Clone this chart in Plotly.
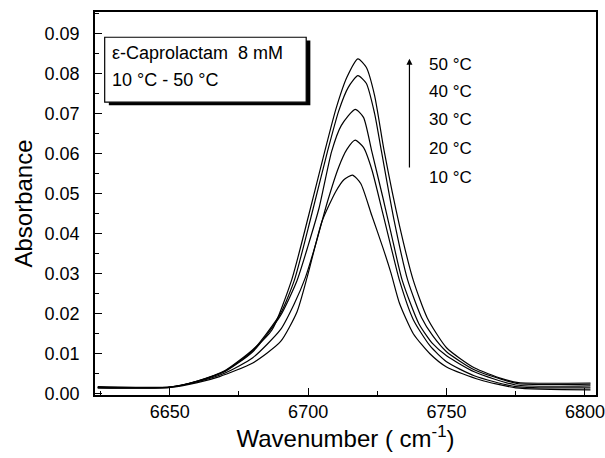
import plotly.graph_objects as go

# ---------------- data ----------------
temps = ["10 °C", "20 °C", "30 °C", "40 °C", "50 °C"]

wn_10 = [6624, 6650, 6660, 6668, 6680, 6690, 6696, 6700, 6705, 6710, 6713, 6716, 6719, 6723, 6727, 6730, 6733, 6738, 6744, 6750, 6762, 6775, 6802]
ab_10 = [0.0015, 0.0016, 0.0028, 0.0043, 0.0077, 0.0130, 0.0205, 0.0300, 0.0430, 0.0505, 0.0535, 0.0546, 0.0525, 0.0445, 0.0365, 0.0300, 0.0226, 0.0150, 0.0100, 0.0067, 0.0035, 0.0015, 0.0010]

wn_20 = [6624, 6650, 6660, 6670, 6680, 6690, 6695, 6699, 6703, 6707, 6711, 6714, 6717, 6720, 6723, 6727, 6730, 6733, 6738, 6744, 6750, 6760, 6775, 6802]
ab_20 = [0.0018, 0.0017, 0.0030, 0.0052, 0.0090, 0.0160, 0.0225, 0.0290, 0.0380, 0.0480, 0.0565, 0.0610, 0.0633, 0.0615, 0.0560, 0.0450, 0.0365, 0.0283, 0.0185, 0.0120, 0.0080, 0.0045, 0.0018, 0.0015]

wn_30 = [6624, 6650, 6660, 6670, 6680, 6690, 6696, 6700, 6704, 6708.5, 6712, 6717, 6720, 6723, 6727, 6730, 6734, 6740, 6745, 6750, 6760, 6775, 6802]
ab_30 = [0.0016, 0.0017, 0.0031, 0.0056, 0.0105, 0.0195, 0.0283, 0.0370, 0.0465, 0.0605, 0.0670, 0.0710, 0.0690, 0.0605, 0.0490, 0.0400, 0.0283, 0.0175, 0.0125, 0.0095, 0.0055, 0.0022, 0.0020]

wn_40 = [6624, 6650, 6660, 6670, 6680, 6690, 6695, 6701, 6707, 6711, 6714.5, 6718, 6721, 6724, 6726.5, 6731, 6736, 6741, 6745, 6750, 6760, 6770, 6776, 6802]
ab_40 = [0.0016, 0.0017, 0.0032, 0.0057, 0.0108, 0.0200, 0.0283, 0.0440, 0.0605, 0.0705, 0.0765, 0.0794, 0.0775, 0.0700, 0.0605, 0.0435, 0.0283, 0.0190, 0.0145, 0.0105, 0.0060, 0.0036, 0.0025, 0.0024]

wn_50 = [6624, 6650, 6660, 6670, 6680, 6687, 6694, 6700, 6706, 6710, 6714, 6718, 6721, 6724, 6727.5, 6733, 6738, 6743, 6750, 6760, 6770, 6776, 6802]
ab_50 = [0.0015, 0.0016, 0.0032, 0.0058, 0.0110, 0.0160, 0.0283, 0.0440, 0.0605, 0.0710, 0.0790, 0.0836, 0.0815, 0.0745, 0.0605, 0.0420, 0.0283, 0.0190, 0.0115, 0.0065, 0.0038, 0.0028, 0.0027]

series = [(wn_10, ab_10), (wn_20, ab_20), (wn_30, ab_30), (wn_40, ab_40), (wn_50, ab_50)]

x_ticks = [6650, 6700, 6750, 6800]
y_ticks = [0.00, 0.01, 0.02, 0.03, 0.04, 0.05, 0.06, 0.07, 0.08, 0.09]

# ---------------- figure ----------------
FONT = "Liberation Sans, Arial, sans-serif"
fig = go.Figure()
for (wx, wy), name in zip(series, temps):
    fig.add_trace(go.Scatter(x=wx, y=wy, mode="lines", name=name,
                             line=dict(color="black", width=1.2, shape="spline", smoothing=0.6),
                             showlegend=False, hoverinfo="skip"))

# legend box with shadow
fig.add_shape(type="rect", xref="x", yref="y", x0=6628.0, x1=6700.8, y0=0.0720, y1=0.0882,
              fillcolor="black", line=dict(width=0), layer="above")
fig.add_shape(type="rect", xref="x", yref="y", x0=6626.5, x1=6699.3, y0=0.0728, y1=0.0890,
              fillcolor="white", line=dict(color="black", width=1.2), layer="above")
fig.add_annotation(x=6628.5, y=0.0851, xref="x", yref="y", xanchor="left", yanchor="middle",
                   text="ε-Caprolactam  8 mM", showarrow=False,
                   font=dict(family=FONT, size=18, color="black"))
fig.add_annotation(x=6628.5, y=0.0783, xref="x", yref="y", xanchor="left", yanchor="middle",
                   text="10 °C - 50 °C", showarrow=False,
                   font=dict(family=FONT, size=18, color="black"))

# temperature arrow and labels
fig.add_annotation(x=6736.6, y=0.0836, ax=6736.6, ay=0.0561, xref="x", yref="y",
                   axref="x", ayref="y", showarrow=True, arrowhead=2, arrowsize=1,
                   arrowwidth=1.2, arrowcolor="black", text="")
label_y = [0.0541, 0.0613, 0.0685, 0.0754, 0.0821]
for t, ly in zip(temps, label_y):
    fig.add_annotation(x=6743.0, y=ly, xref="x", yref="y", xanchor="left", yanchor="middle",
                       text=t, showarrow=False, font=dict(family=FONT, size=17, color="black"))

fig.update_layout(
    width=605, height=458,
    margin=dict(l=95, r=9, t=12, b=63),
    paper_bgcolor="white", plot_bgcolor="white",
    font=dict(family=FONT, size=18, color="black"),
)
fig.update_xaxes(range=[6623, 6804], tickvals=x_ticks, ticks="inside", ticklen=7, tickwidth=1.2,
                 tickcolor="black", showline=True, linecolor="black", linewidth=1.5, mirror=True,
                 showgrid=False, zeroline=False, ticklabelstandoff=0, automargin=False,
                 minor=dict(dtick=25, tick0=6625, ticks="inside", ticklen=4, tickcolor="black", showgrid=False),
                 title=dict(text="Wavenumber ( cm<sup>-1</sup>)", font=dict(size=24), standoff=4),
                 tickfont=dict(size=18))
fig.update_yaxes(range=[-0.0003, 0.0953], tickvals=y_ticks, tickformat=".2f", ticks="inside",
                 ticklen=7, tickwidth=1.2, tickcolor="black", showline=True, linecolor="black",
                 linewidth=1.5, mirror=True, showgrid=False, zeroline=False, ticklabelstandoff=10,
                 automargin=False,
                 minor=dict(dtick=0.005, tick0=0.0, ticks="inside", ticklen=4, tickcolor="black", showgrid=False),
                 title=dict(text="Absorbance", font=dict(size=24), standoff=5),
                 tickfont=dict(size=18))

fig.write_html("out.html", config={"displayModeBar": False},
               post_script="document.body.style.margin='0px';document.body.style.padding='0px';"
                           "document.body.style.overflow='hidden';")
